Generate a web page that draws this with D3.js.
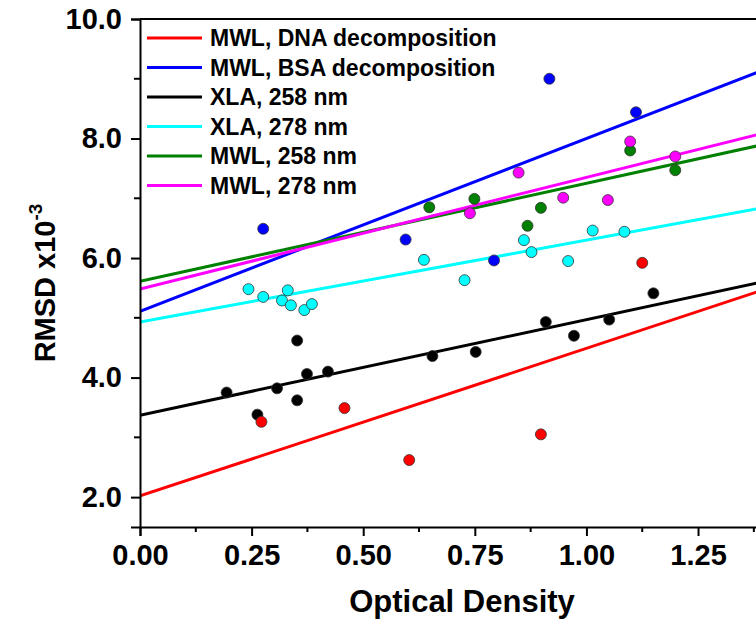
<!DOCTYPE html>
<html>
<head>
<meta charset="utf-8">
<script src="https://cdn.jsdelivr.net/npm/d3@7"></script>
<style>
body { margin: 0; background: #fff; }
text { font-family: "Liberation Sans", Arial, sans-serif; font-weight: bold; fill: #000; }
</style>
</head>
<body>
<div id="chart"></div>
<script>
//Series, legend order
var seriesNames = ["MWL, DNA decomposition", "MWL, BSA decomposition", "XLA, 258 nm", "XLA, 278 nm", "MWL, 258 nm", "MWL, 278 nm"];
var seriesColors = ["#ff0000", "#0000ff", "#000000", "#00ffff", "#008000", "#ff00ff"];

//Linear fits
var fitIntercepts = [2.02, 5.11, 3.37, 4.93, 5.61, 5.48];
var fitSlopes = [2.47, 2.89, 1.60, 1.37, 1.64, 1.87];

//Measured points [optical density, RMSD x10^-3]
var dnaPoints = [[0.272, 3.26], [0.458, 3.49], [0.603, 2.62], [0.898, 3.05], [1.125, 5.92]];
var bsaPoints = [[0.276, 6.49], [0.595, 6.31], [0.793, 5.96], [0.917, 9.0], [1.111, 8.44]];
var xla258Points = [[0.194, 3.75], [0.263, 3.38], [0.307, 3.82], [0.352, 4.62], [0.352, 3.62], [0.374, 4.06],
    [0.421, 4.10], [0.655, 4.36], [0.752, 4.43], [0.909, 4.93], [0.972, 4.70], [1.051, 4.97], [1.15, 5.41]];
var xla278Points = [[0.243, 5.48], [0.276, 5.35], [0.331, 5.46], [0.318, 5.29], [0.338, 5.21], [0.368, 5.13],
    [0.385, 5.23], [0.636, 5.97], [0.727, 5.63], [0.860, 6.30], [0.877, 6.10], [0.959, 5.95], [1.014, 6.46], [1.085, 6.44]];
var mwl258Points = [[0.648, 6.85], [0.749, 6.99], [0.868, 6.54], [0.898, 6.84], [1.098, 7.80], [1.199, 7.47]];
var mwl278Points = [[0.739, 6.75], [0.848, 7.43], [0.948, 7.01], [1.048, 6.97], [1.098, 7.95], [1.199, 7.70]];

var pointSets = [dnaPoints, bsaPoints, xla258Points, xla278Points, mwl258Points, mwl278Points];
var pointOrder = [2, 3, 4, 5, 1, 0];

var xTicks = [0, 0.25, 0.5, 0.75, 1.0, 1.25];
var xMinorTicks = [0.125, 0.375, 0.625, 0.875, 1.125, 1.375];
var yTicks = [2, 4, 6, 8, 10];
var yMinorTicks = [3, 5, 7, 9];

var width = 756;
var height = 620;
var margin = { left: 140, top: 19, right: -9, bottom: 93 };

var x = d3.scaleLinear().domain([0, 1.4]).range([margin.left, width - margin.right]);
var y = d3.scaleLinear().domain([1.5, 10]).range([height - margin.bottom, margin.top]);

var svg = d3.select('#chart').append('svg')
    .attr('width', width)
    .attr('height', height);

svg.append('clipPath').attr('id', 'plot-clip')
    .append('rect')
    .attr('x', x(0)).attr('y', y(10))
    .attr('width', x(1.4) - x(0)).attr('height', y(1.5) - y(10));

//Fit lines
var lineG = svg.append('g').attr('clip-path', 'url(#plot-clip)');
seriesNames.forEach(function(name, i) {
    lineG.append('line')
        .attr('x1', x(0)).attr('y1', y(fitIntercepts[i]))
        .attr('x2', x(1.4)).attr('y2', y(fitIntercepts[i] + fitSlopes[i] * 1.4))
        .attr('stroke', seriesColors[i])
        .attr('stroke-width', 3);
});

//Points
pointOrder.forEach(function(i) {
    svg.append('g').selectAll('circle')
        .data(pointSets[i])
        .enter().append('circle')
        .attr('cx', function(d) { return x(d[0]); })
        .attr('cy', function(d) { return y(d[1]); })
        .attr('r', 5.5)
        .attr('fill', seriesColors[i])
        .attr('stroke', '#333')
        .attr('stroke-width', 0.8);
});

//Axes
var xAxis = d3.axisBottom(x).tickValues(xTicks).tickSize(9).tickPadding(8)
    .tickFormat(d3.format('.2f'));
var gx = svg.append('g')
    .attr('transform', 'translate(0,' + y(1.5) + ')')
    .call(xAxis);
gx.selectAll('text').style('font-size', '29px');

//minor x ticks
svg.append('g').selectAll('line')
    .data(xMinorTicks)
    .enter().append('line')
    .attr('x1', function(d) { return x(d); }).attr('x2', function(d) { return x(d); })
    .attr('y1', y(1.5)).attr('y2', y(1.5) + 5)
    .attr('stroke', '#000').attr('stroke-width', 2);

var yAxis = d3.axisLeft(y).tickValues(yTicks).tickSize(9).tickPadding(9)
    .tickFormat(d3.format('.1f'));
var gy = svg.append('g')
    .attr('transform', 'translate(' + x(0) + ',0)')
    .call(yAxis);
gy.selectAll('text').style('font-size', '29px');

//minor y ticks
svg.append('g').selectAll('line')
    .data(yMinorTicks)
    .enter().append('line')
    .attr('x1', x(0) - 6).attr('x2', x(0))
    .attr('y1', function(d) { return y(d); }).attr('y2', function(d) { return y(d); })
    .attr('stroke', '#000').attr('stroke-width', 2);

svg.selectAll('.domain').attr('stroke-width', 2);
svg.selectAll('.tick line').attr('stroke-width', 2);

//top frame
svg.append('line')
    .attr('x1', x(0)).attr('x2', x(1.4))
    .attr('y1', y(10)).attr('y2', y(10))
    .attr('stroke', '#000').attr('stroke-width', 2);

//Axis titles
svg.append('text')
    .attr('x', 462).attr('y', 612)
    .attr('text-anchor', 'middle')
    .style('font-size', '31px')
    .text('Optical Density');

var yTitle = svg.append('text')
    .attr('transform', 'translate(55,283) rotate(-90)')
    .attr('text-anchor', 'middle')
    .style('font-size', '29px');
yTitle.append('tspan').text('RMSD x10');
yTitle.append('tspan').attr('dy', -13).style('font-size', '19px').text('-3');

//Legend
var legend = svg.append('g');
seriesNames.forEach(function(name, i) {
    var ly = 38 + i * 29.5;
    legend.append('line')
        .attr('x1', 147).attr('x2', 202)
        .attr('y1', ly).attr('y2', ly)
        .attr('stroke', seriesColors[i])
        .attr('stroke-width', 3);
    legend.append('text')
        .attr('x', 210).attr('y', ly)
        .attr('dy', '0.36em')
        .style('font-size', '23px')
        .text(name);
});
</script>
</body>
</html>
